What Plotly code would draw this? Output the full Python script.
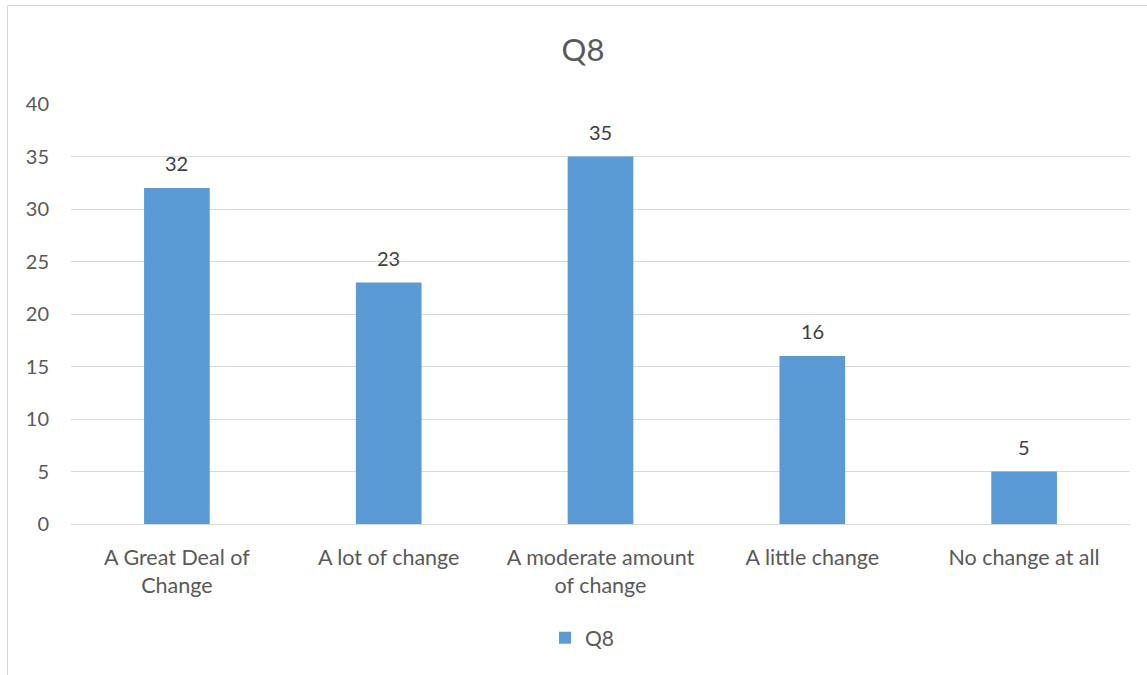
import plotly.graph_objects as go

categories = [
    "A Great Deal of<br>Change",
    "A lot of change",
    "A moderate amount<br>of change",
    "A little change",
    "No change at all",
]
values = [32, 23, 35, 16, 5]
series_name = "Q8"
y_ticks = [0, 5, 10, 15, 20, 25, 30, 35, 40]

W, H = 1147, 675
L, R, T, B = 71, 17, 104, 151
plot_w = W - L - R
plot_h = H - T - B

def px_x(px):
    return (px - L) / plot_w

def px_y(py):
    return (H - B - py) / plot_h

FONT = "Lato, 'Open Sans', sans-serif"
TEXT = "#595959"
GRID = "#d9d9d9"

fig = go.Figure(
    go.Bar(
        x=categories,
        y=values,
        name=series_name,
        marker=dict(color="#5b9bd5", line=dict(width=0)),
        showlegend=True,
    )
)

# value labels above each bar
for cat, val in zip(categories, values):
    fig.add_annotation(
        x=cat,
        y=val,
        text=str(val),
        showarrow=False,
        yanchor="middle",
        yshift=25,
        font=dict(family=FONT, size=20, color="#404040"),
    )

fig.update_layout(
    width=W,
    height=H,
    margin=dict(l=L, r=R, t=T, b=B),
    paper_bgcolor="white",
    plot_bgcolor="white",
    bargap=0.69,
    font=dict(family=FONT, color=TEXT, size=20),
    title=dict(
        text="Q8",
        x=583 / W,
        xanchor="center",
        y=1 - 50 / H,
        yanchor="middle",
        font=dict(family=FONT, size=31, color=TEXT),
    ),
    legend=dict(
        orientation="h",
        x=px_x(582),
        xanchor="center",
        y=px_y(638),
        yanchor="middle",
        font=dict(family=FONT, size=21, color=TEXT),
        itemwidth=30,
    ),
    xaxis=dict(
        showgrid=False,
        showline=True,
        linecolor=GRID,
        linewidth=1,
        ticks="",
        tickfont=dict(family=FONT, size=21.5, color=TEXT),
        ticklabelstandoff=14,
    ),
    yaxis=dict(
        range=[0, 40],
        tickvals=y_ticks,
        showgrid=True,
        gridcolor=GRID,
        gridwidth=1,
        zeroline=False,
        showline=False,
        ticks="",
        tickfont=dict(family=FONT, size=20, color=TEXT),
        ticklabelstandoff=21,
    ),
    shapes=[
        dict(
            type="path",
            xref="paper",
            yref="paper",
            path=f"M {px_x(7.5)} {px_y(700)} L {px_x(7.5)} {px_y(5.5)} L {px_x(1160)} {px_y(5.5)}",
            line=dict(color=GRID, width=1),
            layer="below",
        )
    ],
)

fig.write_html("out.html")
